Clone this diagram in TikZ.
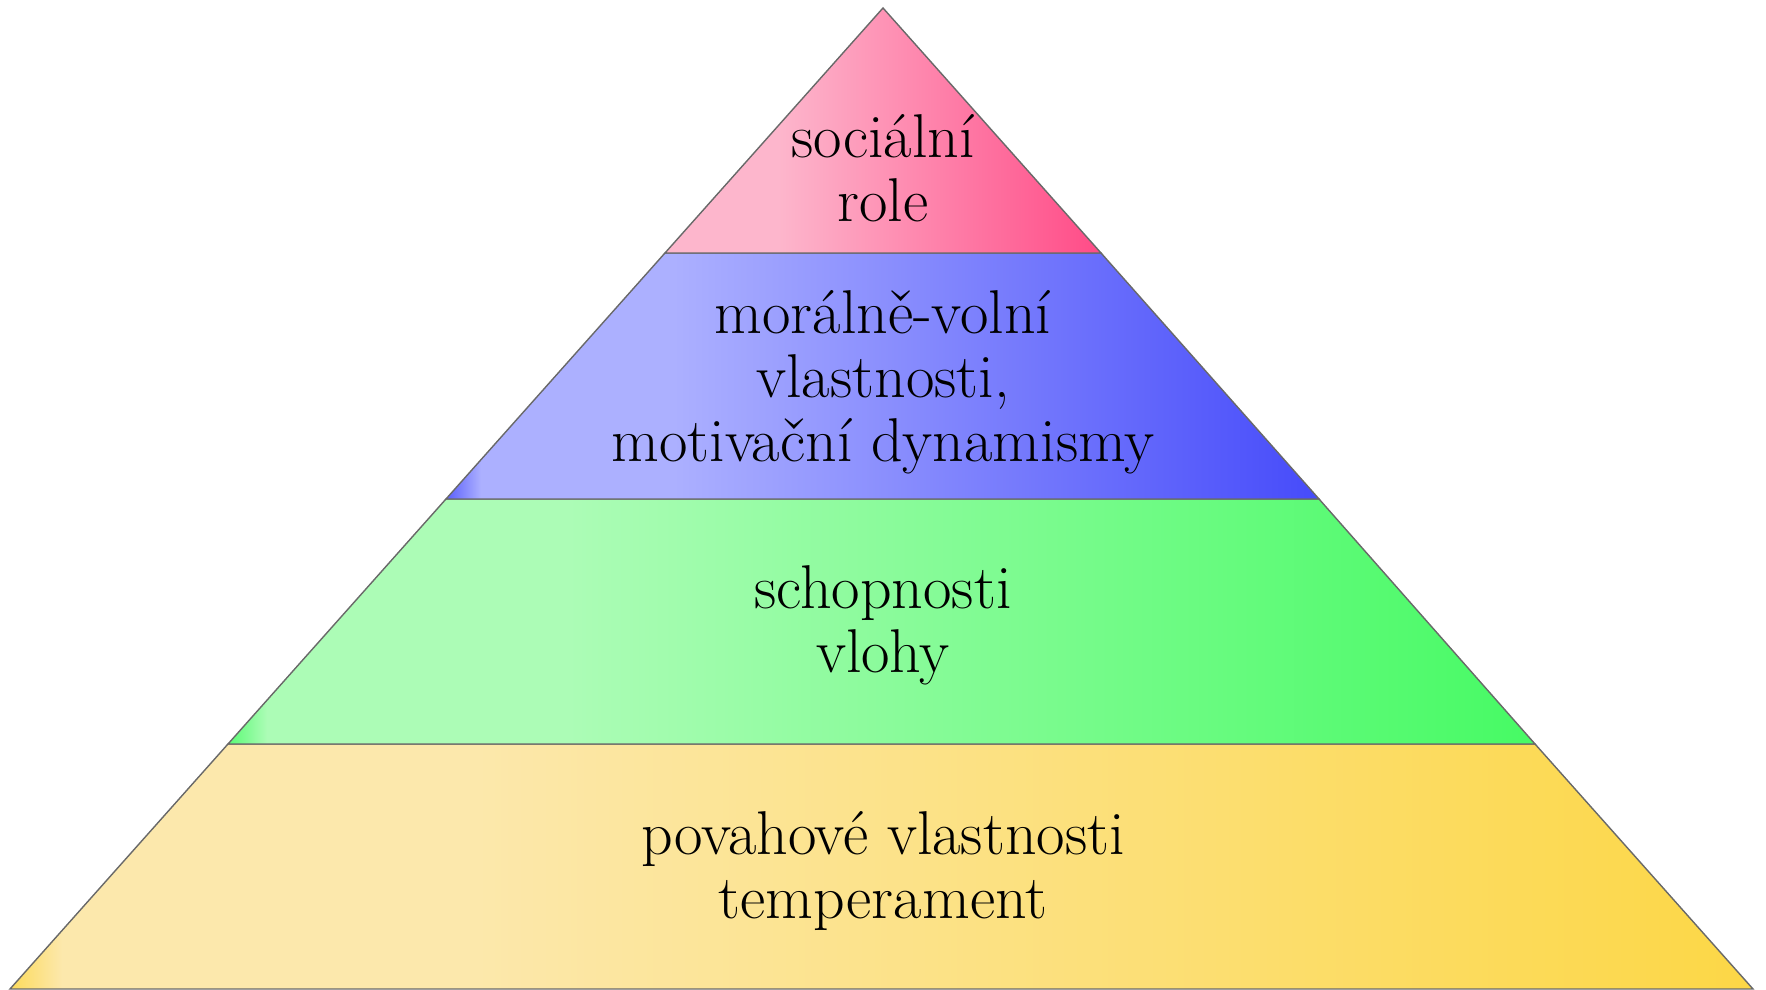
\documentclass[tikz,border=0pt]{standalone}
\usepackage{tikz}

% colours of the layers
\definecolor{roleSat}{RGB}{255,75,135}
\definecolor{roleLight}{RGB}{253,182,204}
\definecolor{moralSat}{RGB}{70,75,250}
\definecolor{moralLight}{RGB}{172,176,255}
\definecolor{abilSat}{RGB}{70,250,100}
\definecolor{abilLight}{RGB}{172,252,182}
\definecolor{tempSat}{RGB}{252,215,70}
\definecolor{tempLight}{RGB}{252,232,172}
\definecolor{edgeGray}{RGB}{105,105,105}

% visible part of a shading runs from 25bp to 75bp
\pgfdeclarehorizontalshading{roleshade}{100bp}{color(0bp)=(roleLight); color(25bp)=(roleLight); color(38bp)=(roleLight); color(75bp)=(roleSat); color(100bp)=(roleSat)}
\pgfdeclarehorizontalshading{moralshade}{100bp}{color(0bp)=(moralSat); color(25bp)=(moralSat!80!moralLight); color(27bp)=(moralLight); color(38bp)=(moralLight); color(75bp)=(moralSat); color(100bp)=(moralSat)}
\pgfdeclarehorizontalshading{abilshade}{100bp}{color(0bp)=(abilSat); color(25bp)=(abilSat!80!abilLight); color(26.5bp)=(abilLight); color(38bp)=(abilLight); color(75bp)=(abilSat); color(100bp)=(abilSat)}
\pgfdeclarehorizontalshading{tempshade}{100bp}{color(0bp)=(tempSat); color(25bp)=(tempSat!80!tempLight); color(26.5bp)=(tempLight); color(38bp)=(tempLight); color(75bp)=(tempSat); color(100bp)=(tempSat)}

\tikzset{
  layer/.style={draw=edgeGray, line width=0.4pt, line join=miter},
  label/.style={align=center, font=\fontsize{17.6}{18.2}\selectfont, inner sep=0pt}
}

\begin{document}
\begin{tikzpicture}
    \useasboundingbox (0,0) rectangle (17.66,9.9);

    % Bottom layer
    \draw[layer, shading=tempshade] (0.10,0.01) -- (17.53,0.01) -- (15.35,2.46) -- (2.28,2.46) -- cycle;
    % Second layer
    \draw[layer, shading=abilshade] (2.28,2.46) -- (15.35,2.46) -- (13.19,4.91) -- (4.46,4.91) -- cycle;
    % Third layer
    \draw[layer, shading=moralshade] (4.46,4.91) -- (13.19,4.91) -- (11.01,7.37) -- (6.65,7.37) -- cycle;
    % Top
    \draw[layer, shading=roleshade] (6.65,7.37) -- (11.01,7.37) -- (8.83,9.82) -- cycle;

    % Labels
    \node[label] (role) at (8.83,8.22) {sociální\\role};
    \node[label] (moral) at (8.83,6.08) {morálně-volní\\vlastnosti,\\motivační dynamismy};
    \node[label] (abil) at (8.83,3.65) {schopnosti\\vlohy};
    \node[label] (temp) at (8.83,1.19) {povahové vlastnosti\\temperament};
\end{tikzpicture}
\end{document}
